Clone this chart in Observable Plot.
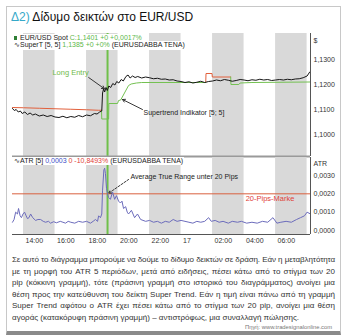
<!DOCTYPE html>
<html><head><meta charset="utf-8">
<script src="https://cdn.jsdelivr.net/npm/d3@7"></script>
<script src="https://cdn.jsdelivr.net/npm/@observablehq/plot@0.6"></script>
<style>
html,body{margin:0;padding:0;background:#fff;overflow:hidden;}
#wrap{position:relative;width:347px;height:335px;overflow:hidden;font-family:"Liberation Sans",Arial,sans-serif;color:#222;}
#card{position:absolute;left:6px;top:6px;width:333px;height:324px;border:1px solid #c8c8c8;border-bottom:4px solid #8a8a8a;}
#title{position:absolute;left:11px;top:11px;font-size:12px;line-height:12px;white-space:nowrap;color:#111;}
#title .num{color:#35a9c9;}
.plot{position:absolute;left:0;}
.leg{position:absolute;left:12px;font-size:7px;line-height:8px;height:8px;background:#fff;white-space:nowrap;padding-left:2px;padding-right:1px;color:#222;}
.g{color:#5db84a;} .b{color:#3d4fc7;} .r{color:#e0413a;}
.mk{display:inline-block;width:3px;height:4px;background:#2f7f35;margin-right:3px;vertical-align:0px;}
#para{position:absolute;left:12px;top:254px;width:323px;font-size:8px;line-height:11.5px;color:#333;}
#src{position:absolute;right:15px;top:323px;font-size:5.8px;line-height:8px;color:#777;white-space:nowrap;}
</style></head>
<body>
<div id="wrap">
  <div id="card"></div>
  <div id="title"><span class="num">Δ2)</span> Δίδυμο δεικτών στο EUR/USD</div>
  <div id="upper" class="plot" style="top:28px"></div>
  <div id="lower" class="plot" style="top:152px"></div>
  <div class="leg" style="top:33.5px"><span class="mk"></span>EUR/USD Spot <span class="g">C:1,1401 +0 +0,0017%</span></div>
  <div class="leg" style="top:41px;height:9px">∿SuperT [5, 5] <span class="g">1,1385 +0 +0%</span> (EURUSDABBA TENA)</div>
  <div class="leg" style="top:157px">∿ATR [5] <span class="b">0,0003</span> <span class="r">0 -10,8493%</span> (EURUSDABBA TENA)</div>
  <div id="para"></div>
  <div id="src">Πηγή: www.tradesignalonline.com</div>
</div>
<script>
// ---------- data ----------
const xStart = "16 13:18", xEnd = "17 08:13";
const bandStart = ["16 14:00","16 18:00","16 22:00","17 02:00","17 06:00"];
const bandEnd   = ["16 16:00","16 20:00","17 00:00","17 04:00","17 08:00"];
const tickTimes  = ["16 14:00","16 16:00","16 18:00","16 20:00","16 22:00","17 00:00","17 02:00","17 04:00","17 06:00"];
const tickLabels = ["14:00","16:00","18:00","20:00","22:00","17","02:00","04:00","06:00"];
const priceTicks = [1.10, 1.11, 1.12, 1.13];
const atrTicks = [0, 0.001, 0.002, 0.003];
const entryTime = "16 19:20";
const atrMark = 0.002;

const priceTime = ["16 13:18","16 13:25","16 13:32","16 13:40","16 13:48","16 13:55","16 14:05","16 14:15","16 14:25","16 14:35","16 14:45","16 15:00","16 15:15","16 15:30","16 15:45","16 16:00","16 16:15","16 16:30","16 16:45","16 17:00","16 17:15","16 17:30","16 17:45","16 18:00","16 18:15","16 18:30","16 18:40","16 18:50","16 18:58","16 19:01","16 19:05","16 19:09","16 19:14","16 19:19","16 19:25","16 19:32","16 19:40","16 19:48","16 19:55","16 20:03","16 20:12","16 20:20","16 20:30","16 20:38","16 20:46","16 20:55","16 21:05","16 21:15","16 21:30","16 21:45","16 22:00","16 22:15","16 22:30","16 22:45","16 23:00","16 23:15","16 23:30","16 23:45","17 00:00","17 00:15","17 00:30","17 00:45","17 01:00","17 01:15","17 01:30","17 01:45","17 02:00","17 02:15","17 02:30","17 02:45","17 03:00","17 03:15","17 03:30","17 03:45","17 04:00","17 04:15","17 04:30","17 04:45","17 05:00","17 05:15","17 05:30","17 05:45","17 06:00","17 06:15","17 06:30","17 06:45","17 07:00","17 07:15","17 07:30","17 07:45","17 08:00","17 08:10"];
const priceValue = [1.1104,1.1096,1.1100,1.1090,1.1094,1.1084,1.1090,1.1080,1.1086,1.1078,1.1082,1.1074,1.1078,1.1072,1.1076,1.1070,1.1068,1.1073,1.1067,1.1072,1.1069,1.1076,1.1071,1.1078,1.1075,1.1084,1.1082,1.1090,1.1094,1.1166,1.1182,1.1170,1.1188,1.1176,1.1194,1.1188,1.1204,1.1198,1.1212,1.1206,1.1220,1.1214,1.1232,1.1238,1.1226,1.1234,1.1228,1.1232,1.1226,1.1230,1.1227,1.1223,1.1225,1.1221,1.1222,1.1218,1.1219,1.1214,1.1212,1.1208,1.1211,1.1206,1.1209,1.1213,1.1208,1.1212,1.1214,1.1218,1.1215,1.1220,1.1217,1.1213,1.1216,1.1220,1.1218,1.1215,1.1219,1.1217,1.1221,1.1218,1.1220,1.1216,1.1218,1.1220,1.1218,1.1221,1.1219,1.1222,1.1223,1.1227,1.1234,1.1250];

const stTime  = ["16 13:18","16 14:00","16 15:00","16 16:00","16 17:00","16 18:00","16 18:45","16 18:57",
                 "16 18:57","16 18:58","16 19:24","16 19:25","16 19:58","16 20:02","16 20:10","16 20:40","16 20:50","16 21:10","16 21:30","17 01:34",
                 "17 01:34","17 01:35","17 01:58","17 01:59","17 03:09",
                 "17 03:09","17 03:10","17 03:40","17 03:45","17 04:30","17 08:13"];
const stValue = [1.1108,1.1107,1.1105,1.1103,1.1101,1.1099,1.1097,1.1097,
                 1.1097,1.1062,1.1062,1.1124,1.1124,1.1136,1.1138,1.1196,1.1202,1.1206,1.1208,1.1208,
                 1.1208,1.1244,1.1244,1.1230,1.1230,
                 1.1230,1.1200,1.1200,1.1206,1.1208,1.1210];
const stSegment = [1,1,1,1,1,1,1,1, 2,2,2,2,2,2,2,2,2,2,2,2, 3,3,3,3,3, 4,4,4,4,4,4];
const stTrend = {1:"down", 2:"up", 3:"down", 4:"up"};

const atrTime = ["16 13:18","16 13:24","16 13:30","16 13:37","16 13:41","16 13:47","16 13:52","16 13:58","16 14:04","16 14:10","16 14:15","16 14:21","16 14:27","16 14:35","16 14:46","16 14:55","16 15:05","16 15:15","16 15:24","16 15:35","16 15:43","16 15:55","16 16:05","16 16:20","16 16:30","16 16:40","16 16:50","16 17:00","16 17:15","16 17:30","16 17:45","16 18:00","16 18:15","16 18:25","16 18:34","16 18:42","16 18:46","16 18:53","16 18:58","16 19:01","16 19:06","16 19:09","16 19:12","16 19:16","16 19:20","16 19:24","16 19:31","16 19:39","16 19:47","16 19:54","16 20:02","16 20:09","16 20:15","16 20:21","16 20:29","16 20:35","16 20:40","16 20:51","16 21:03","16 21:14","16 21:26","16 21:45","16 22:00","16 22:15","16 22:30","16 22:45","16 23:00","16 23:15","16 23:30","16 23:45","17 00:00","17 00:15","17 00:30","17 00:45","17 01:00","17 01:15","17 01:30","17 01:45","17 01:55","17 02:10","17 02:25","17 02:40","17 03:00","17 03:15","17 03:35","17 03:50","17 04:10","17 04:30","17 04:50","17 05:10","17 05:30","17 05:50","17 06:05","17 06:20","17 06:40","17 07:00","17 07:20","17 07:35","17 07:50","17 08:00","17 08:13"];
const atrValue = [0.00045,0.0006,0.0010,0.0009,0.0012,0.0008,0.0007,0.0009,0.0010,0.0008,0.00065,0.0007,0.0009,0.0007,0.00055,0.0006,0.0006,0.0005,0.00045,0.0005,0.0004,0.00048,0.00042,0.0005,0.00045,0.0004,0.0005,0.00045,0.0004,0.0005,0.00045,0.0005,0.0004,0.0005,0.0006,0.0005,0.0008,0.0007,0.0009,0.0022,0.0033,0.0034,0.0031,0.0023,0.0020,0.0018,0.0017,0.0021,0.0017,0.0019,0.0016,0.0015,0.0016,0.0012,0.0013,0.0010,0.0009,0.0011,0.0007,0.0009,0.0006,0.0005,0.00055,0.00045,0.0005,0.0004,0.0005,0.00045,0.0006,0.0005,0.00055,0.0005,0.00045,0.0004,0.0005,0.00045,0.0005,0.0007,0.0005,0.00055,0.00045,0.0005,0.0004,0.0005,0.00045,0.0005,0.0004,0.00045,0.0004,0.0005,0.00045,0.0007,0.0004,0.00045,0.0005,0.00045,0.0006,0.0007,0.0008,0.0010,0.0009];

const paraLines = [
  "Σε αυτό το διάγραμμα μπορούμε να δούμε το δίδυμο δεικτών σε δράση. Εάν η μεταβλητότητα",
  "με τη μορφή του ATR 5 περιόδων, μετά από ειδήσεις, πέσει κάτω από το στίγμα των 20",
  "pip (κόκκινη γραμμή), τότε (πράσινη γραμμή στο ιστορικό του διαγράμματος) ανοίγει μια",
  "θέση προς την κατεύθυνση του δείκτη Super Trend. Εάν η τιμή είναι πάνω από τη γραμμή",
  "Super Trend αφότου ο ATR έχει πέσει κάτω από το στίγμα των 20 pip, ανοίγει μια θέση",
  "αγοράς (κατακόρυφη πράσινη γραμμή) – αντιστρόφως, μια συναλλαγή πώλησης."
];

// annotations (data coordinates)
const noteLong = {text:"Long Entry", t:"16 16:59", v:1.1248, from:["16 18:08",1.1228], to:["16 19:08",1.1183]};
const noteST = {text:"Supertrend Indikator [5; 5]", t:"16 21:37", v:1.1088, from:["16 21:33",1.1100], to:["16 20:17",1.1140]};
const noteATR = {text:"Average True Range unter 20 Pips", t:"16 20:47", v:0.00295, from:["16 20:40",0.00278], to:["16 19:24",0.00203]};
const noteMark = {text:"20-Pips-Marke", t:"17 04:06", v:0.00173};

// ---------- build ----------
const T = s => { const [d, hm] = s.split(" "); const [h, m] = hm.split(":").map(Number); return new Date(Date.UTC(2019, 5, +d, h, m)); };
const FONT = '"Liberation Sans", Arial, sans-serif';
const xDomain = [T(xStart), T(xEnd)];
const bands = bandStart.map((s, i) => ({start: T(s), end: T(bandEnd[i])}));
const labelMap = new Map(tickTimes.map((s, i) => [+T(s), tickLabels[i]]));
const price = priceTime.map((s, i) => ({t: T(s), v: priceValue[i]}));
const st = stTime.map((s, i) => ({t: T(s), v: stValue[i], seg: stSegment[i], trend: stTrend[stSegment[i]]}));
const atr = atrTime.map((s, i) => ({t: T(s), v: atrValue[i]}));
const fmt4 = d => d3.format(".4f")(d).replace(".", ",");
const GREEN = "#74c152", RED = "#e2603c", ENTRY = "#6fc04a";
const pDom = [1.0912, 1.1404], aDom = [-0.000218, 0.00398];
const arrowOf = n => [{x1: T(n.from[0]), y1: n.from[1], x2: T(n.to[0]), y2: n.to[1]}];

const upper = Plot.plot({
  width: 347, height: 128, marginTop: 5, marginBottom: 0, marginLeft: 12, marginRight: 37,
  style: {fontFamily: FONT, background: "transparent", overflow: "visible"},
  x: {type: "utc", domain: xDomain, axis: null},
  y: {domain: pDom, axis: null},
  marks: [
    Plot.rect(bands, {x1: "start", x2: "end", fill: "#d9d9d9"}),
    Plot.ruleX([T(entryTime)], {stroke: ENTRY, strokeWidth: 2}),
    Plot.line(st.filter(d => d.trend === "down"), {x: "t", y: "v", z: "seg", stroke: RED, strokeWidth: 1}),
    Plot.line(st.filter(d => d.trend === "up"), {x: "t", y: "v", z: "seg", stroke: GREEN, strokeWidth: 1}),
    Plot.line(price, {x: "t", y: "v", stroke: "#151515", strokeWidth: 1}),
    Plot.ruleY([pDom[0]], {stroke: "#9a9a9a", strokeWidth: 2}),
    Plot.ruleX([xDomain[1]], {stroke: "#555"}),
    Plot.axisY({anchor: "right", ticks: priceTicks, tickFormat: fmt4, tickSize: 0, tickPadding: 3, fontSize: 7, fill: "#333", label: null}),
    Plot.text(["$"], {text: d => d, frameAnchor: "top-right", dx: 3, dy: 5, textAnchor: "start", fontSize: 7, fill: "#333"}),
    Plot.text([noteLong], {x: d => T(d.t), y: "v", text: "text", fill: "#6fbb48", fontSize: 7.5}),
    Plot.arrow(arrowOf(noteLong), {x1: "x1", y1: "y1", x2: "x2", y2: "y2", stroke: "#222", strokeWidth: 0.9, headLength: 5}),
    Plot.text([noteST], {x: d => T(d.t), y: "v", text: "text", fill: "#222", fontSize: 7, textAnchor: "start"}),
    Plot.arrow(arrowOf(noteST), {x1: "x1", y1: "y1", x2: "x2", y2: "y2", stroke: "#222", strokeWidth: 0.9, headLength: 5})
  ]
});
document.getElementById("upper").appendChild(upper);

const lower = Plot.plot({
  width: 347, height: 98, marginTop: 5, marginBottom: 16, marginLeft: 12, marginRight: 37,
  style: {fontFamily: FONT, background: "transparent", overflow: "visible"},
  x: {type: "utc", domain: xDomain, axis: null},
  y: {domain: aDom, axis: null},
  marks: [
    Plot.rect(bands, {x1: "start", x2: "end", fill: "#d9d9d9"}),
    Plot.ruleX([T(entryTime)], {stroke: ENTRY, strokeWidth: 2}),
    Plot.ruleY([atrMark], {stroke: "#d9603f", strokeWidth: 1}),
    Plot.line(atr, {x: "t", y: "v", stroke: "#6c6cbc", strokeWidth: 1}),
    Plot.ruleY([aDom[0]], {stroke: "#555"}),
    Plot.ruleX([xDomain[1]], {stroke: "#555"}),
    Plot.axisY({anchor: "right", ticks: atrTicks, tickFormat: fmt4, tickSize: 0, tickPadding: 3, fontSize: 7, fill: "#333", label: null}),
    Plot.axisX({ticks: tickTimes.map(T), tickFormat: d => labelMap.get(+d), tickSize: 0, tickPadding: 4, textAnchor: "start", dx: 2, fontSize: 7, fill: "#333", label: null}),
    Plot.text(["ATR"], {text: d => d, frameAnchor: "top-right", dx: 3, dy: 4, textAnchor: "start", fontSize: 7, fill: "#333"}),
    Plot.text([noteATR], {x: d => T(d.t), y: "v", text: "text", fill: "#222", fontSize: 7, textAnchor: "start"}),
    Plot.arrow(arrowOf(noteATR), {x1: "x1", y1: "y1", x2: "x2", y2: "y2", stroke: "#222", strokeWidth: 0.9, headLength: 5, strokeDasharray: "2,1.5"}),
    Plot.text([noteMark], {x: d => T(d.t), y: "v", text: "text", fill: "#e0413a", fontSize: 7.5, textAnchor: "start"})
  ]
});
document.getElementById("lower").appendChild(lower);

// paragraph: one justified line per reference line
const para = document.getElementById("para");
const W = 323;
paraLines.forEach((line, i) => {
  const div = document.createElement("div");
  const span = document.createElement("span");
  span.textContent = line;
  span.style.whiteSpace = "nowrap";
  div.appendChild(span);
  para.appendChild(div);
  const w = span.getBoundingClientRect().width;
  if (w > W - 1) span.style.letterSpacing = ((W - 1.5 - w) / line.length) + "px";
  if (i < paraLines.length - 1) {
    div.style.textAlign = "justify";
    div.style.textAlignLast = "justify";
    span.style.whiteSpace = "normal";
  }
});
</script>
</body></html>
